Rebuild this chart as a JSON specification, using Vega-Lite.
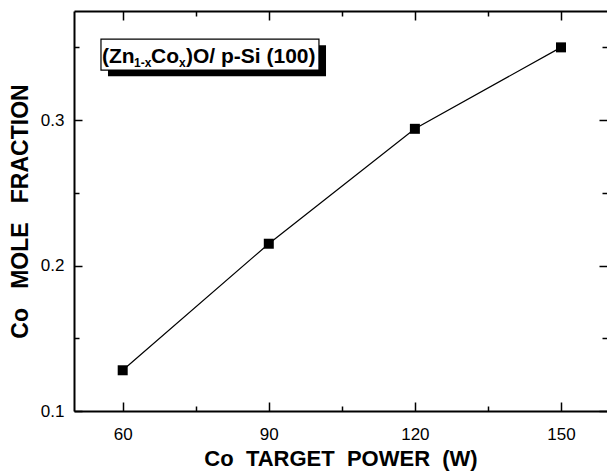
{
  "$schema": "https://vega.github.io/schema/vega-lite/v6.json",
  "autosize": {"type": "none"},
  "padding": {"left": 74, "top": 11, "right": 0, "bottom": 63},
  "width": 533,
  "height": 400,
  "background": "white",
  "config": {
    "view": {"stroke": null},
    "font": "Liberation Sans",
    "axis": {
      "domainColor": "black",
      "domainWidth": 2,
      "tickColor": "black",
      "tickWidth": 1.5,
      "labelColor": "black",
      "labelFont": "Liberation Sans",
      "labelFontSize": 17,
      "titleColor": "black",
      "titleFont": "Liberation Sans",
      "titleFontWeight": "bold",
      "titleFontSize": 22,
      "grid": false
    }
  },
  "datasets": {
    "points": [
      {"power": 60, "fraction": 0.128},
      {"power": 90, "fraction": 0.215},
      {"power": 120, "fraction": 0.294},
      {"power": 150, "fraction": 0.350}
    ],
    "box": [
      {"part": "shadow", "x1": 56.98, "x2": 101.75, "y1": 0.3515, "y2": 0.3302},
      {"part": "frame", "x1": 55.54, "x2": 100.3, "y1": 0.3557, "y2": 0.3344}
    ],
    "label": [
      {"kind": "main", "t": "(Zn", "x": 55.75, "y": 0.3392},
      {"kind": "sub", "t": "1-x", "x": 62.32, "y": 0.3364},
      {"kind": "main", "t": "Co", "x": 65.81, "y": 0.3392},
      {"kind": "sub", "t": "x", "x": 71.56, "y": 0.3364},
      {"kind": "main", "t": ")O/ p-Si (100)", "x": 73.0, "y": 0.3392}
    ]
  },
  "layer": [
    {
      "data": {"name": "box"},
      "transform": [{"filter": "datum.part === 'shadow'"}],
      "mark": {"type": "rect", "fill": "black"},
      "encoding": {
        "x": {"field": "x1", "type": "quantitative", "scale": {"domain": [50, 159.45], "nice": false, "zero": false}, "axis": null},
        "x2": {"field": "x2"},
        "y": {"field": "y1", "type": "quantitative", "scale": {"domain": [0.1, 0.375], "nice": false, "zero": false}, "axis": null},
        "y2": {"field": "y2"}
      }
    },
    {
      "data": {"name": "box"},
      "transform": [{"filter": "datum.part === 'frame'"}],
      "mark": {"type": "rect", "fill": "white", "stroke": "black", "strokeWidth": 1.2},
      "encoding": {
        "x": {"field": "x1", "type": "quantitative", "axis": null},
        "x2": {"field": "x2"},
        "y": {"field": "y1", "type": "quantitative", "axis": null},
        "y2": {"field": "y2"}
      }
    },
    {
      "data": {"name": "label"},
      "transform": [{"filter": "datum.kind === 'main'"}],
      "mark": {"type": "text", "align": "left", "baseline": "alphabetic", "font": "Liberation Sans", "fontWeight": "bold", "fontSize": 21, "color": "black"},
      "encoding": {
        "x": {"field": "x", "type": "quantitative", "axis": null},
        "y": {"field": "y", "type": "quantitative", "axis": null},
        "text": {"field": "t"}
      }
    },
    {
      "data": {"name": "label"},
      "transform": [{"filter": "datum.kind === 'sub'"}],
      "mark": {"type": "text", "align": "left", "baseline": "alphabetic", "font": "Liberation Sans", "fontWeight": "bold", "fontSize": 12, "color": "black"},
      "encoding": {
        "x": {"field": "x", "type": "quantitative", "axis": null},
        "y": {"field": "y", "type": "quantitative", "axis": null},
        "text": {"field": "t"}
      }
    },
    {
      "data": {"name": "points"},
      "mark": {"type": "line", "color": "black", "strokeWidth": 1.2},
      "encoding": {
        "x": {
          "field": "power", "type": "quantitative",
          "title": "Co\u00a0 TARGET\u00a0 POWER\u00a0 (W)",
          "axis": {
            "orient": "bottom",
            "values": [60, 75, 90, 105, 120, 135, 150],
            "labelExpr": "datum.value % 30 === 0 ? datum.label : ''",
            "tickSize": {"condition": {"test": "datum.value % 30 === 0", "value": -9}, "value": -5},
            "labelPadding": 24,
            "titlePadding": 6
          }
        },
        "y": {
          "field": "fraction", "type": "quantitative",
          "title": "Co\u00a0\u00a0 MOLE\u00a0\u00a0 FRACTION",
          "axis": {
            "orient": "left",
            "values": [0.1, 0.15, 0.2, 0.25, 0.3, 0.35],
            "labelExpr": "abs(datum.value*10 - round(datum.value*10)) < 0.01 ? format(datum.value, '.1f') : ''",
            "tickSize": {"condition": {"test": "abs(datum.value*10 - round(datum.value*10)) < 0.01", "value": -8}, "value": -5},
            "labelPadding": 18,
            "titleFontSize": 23,
            "titlePadding": 8
          }
        }
      }
    },
    {
      "data": {"name": "points"},
      "mark": {"type": "point", "shape": "square", "filled": true, "color": "black", "size": 100, "opacity": 1},
      "encoding": {
        "x": {
          "field": "power", "type": "quantitative",
          "axis": {
            "orient": "top",
            "values": [60, 75, 90, 105, 120, 135, 150],
            "labels": false,
            "title": null,
            "tickSize": {"condition": {"test": "datum.value % 30 === 0", "value": -9}, "value": -5}
          }
        },
        "y": {
          "field": "fraction", "type": "quantitative",
          "axis": {
            "orient": "right",
            "values": [0.1, 0.15, 0.2, 0.25, 0.3, 0.35],
            "labels": false,
            "title": null,
            "domain": false,
            "tickSize": {"condition": {"test": "abs(datum.value*10 - round(datum.value*10)) < 0.01", "value": -8}, "value": -5}
          }
        }
      }
    }
  ],
  "resolve": {"axis": {"x": "independent", "y": "independent"}}
}
